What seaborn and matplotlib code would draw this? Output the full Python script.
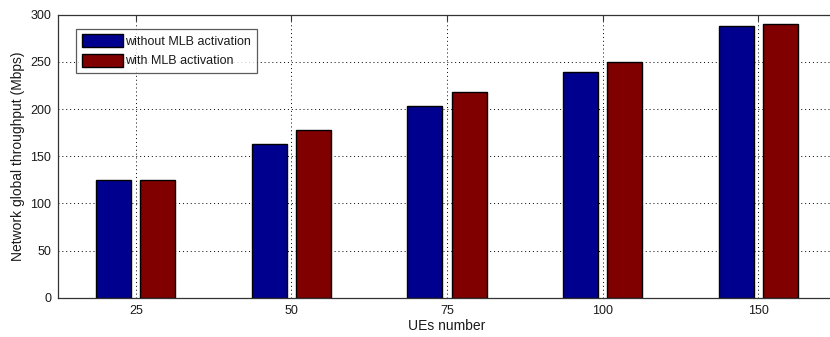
import matplotlib
matplotlib.use("Agg")
import matplotlib.pyplot as plt
import seaborn as sns
import pandas as pd

# Network throughput per number of UEs
ues = ["25", "50", "75", "100", "150"]
without_mlb = [125, 163, 203, 239, 288]
with_mlb = [125, 178, 218, 250, 290]
series_names = ["without MLB activation", "with MLB activation"]
colors = ["#00008F", "#800000"]

df = pd.DataFrame({
    "UEs": ues * 2,
    "Throughput": without_mlb + with_mlb,
    "Scenario": [series_names[0]] * len(ues) + [series_names[1]] * len(ues),
})

sns.set_theme(style="white")
plt.rcParams["font.family"] = ["Liberation Sans", "DejaVu Sans"]

fig = plt.figure(figsize=(8.30, 3.37), dpi=100)
ax = fig.add_axes([58 / 830, 1 - 297.7 / 337, 778 / 830, (297.7 - 14.7) / 337])

sns.barplot(data=df, x="UEs", y="Throughput", hue="Scenario", order=ues,
            hue_order=series_names, palette=colors, width=0.57, gap=0.21,
            edgecolor="black", linewidth=1.0, saturation=1, ax=ax, zorder=2)

ax.set_xlim(-0.5, 4.5)
ax.set_ylim(0, 300)
ax.set_yticks(range(0, 301, 50))
ax.grid(True, color="black", linestyle=(0, (1, 3)), linewidth=0.7, zorder=0)
ax.set_axisbelow(True)

text_color = "#1a1a1a"
ax.tick_params(direction="in", length=4, width=0.8, top=True, right=True,
               labelsize=9, colors="#333333", pad=5)
ax.tick_params(axis="both", labelcolor=text_color)
for s in ax.spines.values():
    s.set_color("#333333")
    s.set_linewidth(0.9)

ax.set_xlabel("UEs number", fontsize=10, labelpad=2, color=text_color)
ax.set_ylabel("Network global throughput (Mbps)", fontsize=10, labelpad=4,
              color=text_color)

leg = ax.legend(loc="upper left", bbox_to_anchor=(0.023, 0.95), fontsize=9,
                frameon=True, fancybox=False, edgecolor="#333333",
                handlelength=3.3, handleheight=1.2, handletextpad=0.2,
                borderpad=0.45, labelspacing=0.45, borderaxespad=0)
leg.get_frame().set_linewidth(0.9)
for t in leg.get_texts():
    t.set_color(text_color)

fig.savefig("out.png", dpi=100)
